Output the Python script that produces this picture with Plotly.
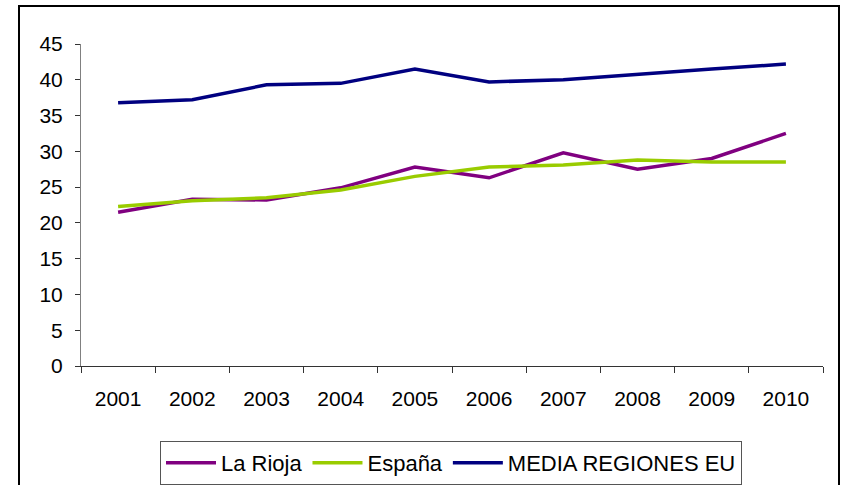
import plotly.graph_objects as go

# Series data
years = ["2001", "2002", "2003", "2004", "2005", "2006", "2007", "2008", "2009", "2010"]
la_rioja = [21.5, 23.3, 23.2, 24.9, 27.8, 26.3, 29.8, 27.5, 29.0, 32.5]
espana = [22.3, 23.1, 23.5, 24.6, 26.5, 27.8, 28.1, 28.8, 28.5, 28.5]
media_eu = [36.8, 37.2, 39.3, 39.5, 41.5, 39.7, 40.0, 40.8, 41.5, 42.2]
y_ticks = [0, 5, 10, 15, 20, 25, 30, 35, 40, 45]

W, H = 842, 485
ML, MR, MT, MB = 81, 19, 44, 119
PW, PH = W - ML - MR, H - MT - MB


def px_x(x):
    return (x - ML) / PW


def px_y(y):
    return (H - MB - y) / PH


FONT = "Liberation Sans, Arial, sans-serif"

fig = go.Figure()
for name, vals, color in [
    ("La Rioja", la_rioja, "#800080"),
    ("España", espana, "#99CC00"),
    ("MEDIA REGIONES EU", media_eu, "#000080"),
]:
    fig.add_trace(go.Scatter(x=years, y=vals, name=name, mode="lines",
                             line=dict(color=color, width=3.5)))

fig.update_layout(
    width=W, height=H,
    margin=dict(l=ML, r=MR, t=MT, b=MB, pad=0, autoexpand=False),
    paper_bgcolor="white", plot_bgcolor="white",
    font=dict(family=FONT, size=21, color="black"),
    showlegend=True,
    legend=dict(
        orientation="h", xref="container", yref="container",
        x=160 / W, y=1 - 441 / H, xanchor="left", yanchor="top",
        bordercolor="#555555", borderwidth=1, bgcolor="white",
        font=dict(family=FONT, size=22, color="black"),
        itemwidth=50, tracegroupgap=0,
    ),
    xaxis=dict(
        type="category", range=[-0.5, 9.5], showgrid=False, zeroline=False,
        showline=True, linecolor="#333333", linewidth=1, automargin=False,
        ticks="outside", ticklen=6, tickcolor="#333333", tickson="boundaries",
        ticklabelstandoff=14,
    ),
    yaxis=dict(
        range=[0, 45], tickvals=y_ticks, showgrid=False, zeroline=False,
        showline=True, linecolor="#808080", linewidth=1, automargin=False,
        ticks="outside", ticklen=5, tickcolor="#333333",
        ticklabelstandoff=8,
    ),
    shapes=[dict(
        type="rect", xref="paper", yref="paper",
        x0=px_x(19), x1=px_x(839), y0=px_y(492), y1=px_y(6),
        line=dict(color="black", width=2), fillcolor="rgba(0,0,0,0)", layer="below",
    )],
)

fig.write_html("out.html")
